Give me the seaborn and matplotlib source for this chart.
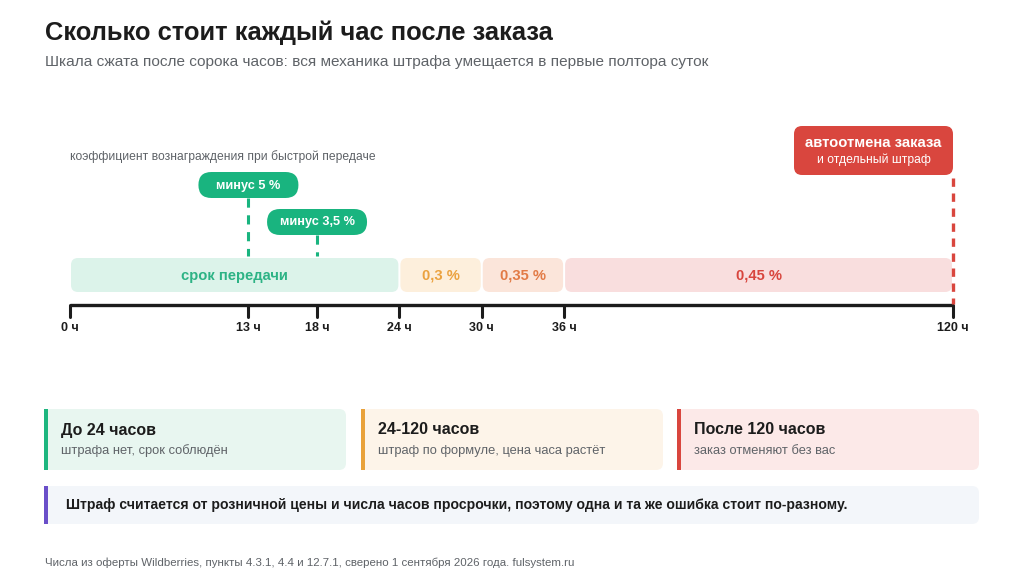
import numpy as np
import matplotlib
matplotlib.use("Agg")
import matplotlib.pyplot as plt
from matplotlib.patches import FancyBboxPatch, Rectangle
import seaborn as sns

sns.set_theme(style="white")
plt.rcParams['font.family'] = ['Liberation Sans', 'DejaVu Sans']

# --- data ---
title = "Сколько стоит каждый час после заказа"
subtitle = "Шкала сжата после сорока часов: вся механика штрафа умещается в первые полтора суток"
footer = "Числа из оферты Wildberries, пункты 4.3.1, 4.4 и 12.7.1, сверено 1 сентября 2026 года. fulsystem.ru"

seg_start = [0, 24, 30, 36]
seg_end = [24, 30, 36, 120]
seg_labels = ["срок передачи", "0,3 %", "0,35 %", "0,45 %"]
seg_fill = ["#dcf3ea", "#fdefdc", "#fbe5da", "#f9dede"]
seg_text = ["#2db385", "#eba23f", "#e27a45", "#d8453d"]

tick_hours = [0, 13, 18, 24, 30, 36, 120]
tick_labels = ["0 ч", "13 ч", "18 ч", "24 ч", "30 ч", "36 ч", "120 ч"]

bonus_hours = [13, 18]
bonus_labels = ["минус 5 %", "минус 3,5 %"]
bonus_note = "коэффициент вознаграждения при быстрой передаче"

cancel_hour = 120
cancel_title = "автоотмена заказа"
cancel_sub = "и отдельный штраф"

card_titles = ["До 24 часов", "24-120 часов", "После 120 часов"]
card_subs = ["штрафа нет, срок соблюдён", "штраф по формуле, цена часа растёт", "заказ отменяют без вас"]
card_accent = ["#1db67f", "#e9a23b", "#d9463e"]
card_fill = ["#e8f6f0", "#fdf4e9", "#fce9e8"]

note_text = "Штраф считается от розничной цены и числа часов просрочки, поэтому одна и та же ошибка стоит по-разному."

# compressed scale: linear to 40 h, squeezed from 40 to 120 h
scale_hours = [0, 40, 120]
scale_px = [70, 619, 953]


def hx(h):
    return np.interp(h, scale_hours, scale_px)


GREEN = "#19b47f"
RED = "#d9463e"
DARK = "#1c1c1c"
GREY = "#5f6368"

fig = plt.figure(figsize=(10.24, 5.76), dpi=100)
ax = fig.add_axes([0, 0, 1, 1])
ax.set_xlim(0, 1024)
ax.set_ylim(576, 0)
ax.axis("off")


def rbox(x0, y0, w, h, color, r=6, **kw):
    p = FancyBboxPatch((x0 + r, y0 + r), w - 2 * r, h - 2 * r,
                       boxstyle=f"round,pad={r}", fc=color, ec="none", **kw)
    ax.add_patch(p)
    return p


# header
ax.text(45, 33, title, fontsize=18.4, fontweight="bold", color=DARK, va="center")
ax.text(45, 62, subtitle, fontsize=11.1, color=GREY, va="center")

# segments
bar_y, bar_h = 258, 34
for s, e, lab, fc, tc in zip(seg_start, seg_end, seg_labels, seg_fill, seg_text):
    x0, x1 = hx(s) + 1, hx(e) - 1
    rbox(x0, bar_y, x1 - x0, bar_h, fc, r=7)
    ax.text((x0 + x1) / 2, bar_y + bar_h / 2 + 1, lab, ha="center", va="center",
            fontsize=10.6, fontweight="bold", color=tc)

# axis line and ticks
ax.plot([hx(0), hx(120)], [305, 305], color=DARK, lw=2.4, solid_capstyle="butt")
for h, lab in zip(tick_hours, tick_labels):
    ax.plot([hx(h), hx(h)], [305, 317], color=DARK, lw=2.2)
    ax.text(hx(h), 328, lab, ha="center", va="center", fontsize=9,
            fontweight="bold", color=DARK)

# bonus pills
ax.text(70, 157, bonus_note, fontsize=8.75, color=GREY, va="center")
pill_top = [172, 209]
for h, lab, top in zip(bonus_hours, bonus_labels, pill_top):
    x = hx(h)
    ax.plot([x, x], [top + 26, 256], color=GREEN, lw=2.2, ls=(0, (3, 2.5)))
    rbox(x - 50, top, 100, 26, GREEN, r=13)
    ax.text(x, top + 13.5, lab, ha="center", va="center", fontsize=9.2,
            fontweight="bold", color="white")

# auto cancel
cx = hx(cancel_hour)
ax.plot([cx, cx], [178, 304], color=RED, lw=2.4, ls=(0, (2.5, 2)))
rbox(cx - 159, 126, 159, 49, RED, r=8)
ax.text(cx - 79.5, 143, cancel_title, ha="center", va="center", fontsize=10.7,
        fontweight="bold", color="white")
ax.text(cx - 79.5, 160, cancel_sub, ha="center", va="center", fontsize=8.7,
        color="white")

# cards
card_x = [44, 361, 677]
card_w = 302
for x0, t, s, acc, fc in zip(card_x, card_titles, card_subs, card_accent, card_fill):
    rbox(x0, 409, card_w, 61, fc, r=7)
    ax.add_patch(Rectangle((x0, 409), 4, 61, fc=acc, ec="none"))
    ax.text(x0 + 17, 430, t, fontsize=11.5, fontweight="bold", color=DARK, va="center")
    ax.text(x0 + 17, 451, s, fontsize=9.3, color=GREY, va="center")

# note
rbox(44, 486, 935, 38, "#f3f6fa", r=7)
ax.add_patch(Rectangle((44, 486), 4, 38, fc="#6a4fc9", ec="none"))
ax.text(66, 505, note_text, fontsize=10.1, fontweight="bold", color=DARK, va="center")

# footer
ax.text(45, 563, footer, fontsize=8.25, color=GREY, va="center")

fig.savefig("out.png", dpi=100, facecolor="white")
